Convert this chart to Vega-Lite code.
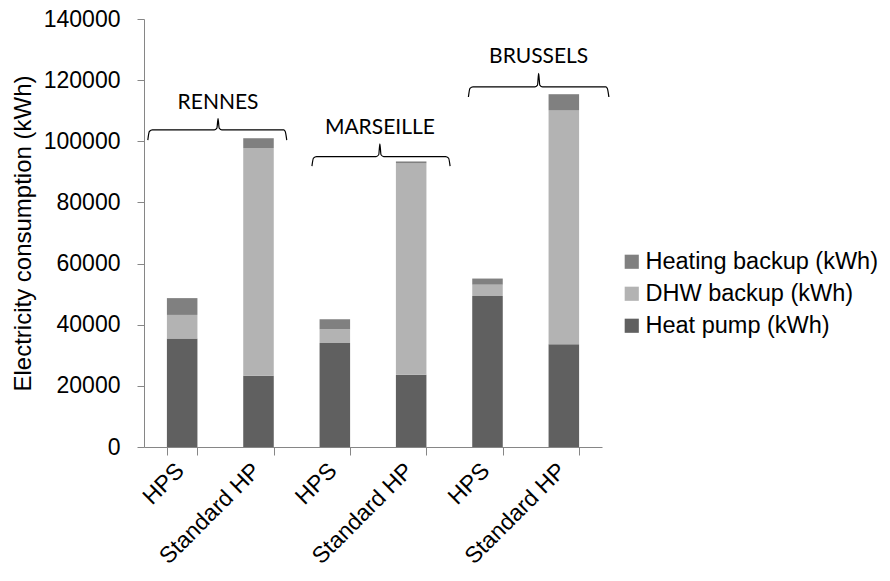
{
  "$schema": "https://vega.github.io/schema/vega-lite/v6.json",
  "autosize": "none",
  "width": 458,
  "height": 428,
  "padding": {"left": 144, "top": 19, "right": 288, "bottom": 134},
  "background": "white",
  "config": {
    "view": {"stroke": null},
    "font": "Liberation Sans"
  },
  "datasets": {
    "bars": [
      {"bar": "Rennes|HPS", "series": "Heat pump (kWh)", "k": 1, "v": 35500},
      {"bar": "Rennes|HPS", "series": "DHW backup (kWh)", "k": 2, "v": 7700},
      {"bar": "Rennes|HPS", "series": "Heating backup (kWh)", "k": 3, "v": 5500},
      {"bar": "Rennes|Standard HP", "series": "Heat pump (kWh)", "k": 1, "v": 23300},
      {"bar": "Rennes|Standard HP", "series": "DHW backup (kWh)", "k": 2, "v": 74500},
      {"bar": "Rennes|Standard HP", "series": "Heating backup (kWh)", "k": 3, "v": 3200},
      {"bar": "Marseille|HPS", "series": "Heat pump (kWh)", "k": 1, "v": 34000},
      {"bar": "Marseille|HPS", "series": "DHW backup (kWh)", "k": 2, "v": 4500},
      {"bar": "Marseille|HPS", "series": "Heating backup (kWh)", "k": 3, "v": 3300},
      {"bar": "Marseille|Standard HP", "series": "Heat pump (kWh)", "k": 1, "v": 23600},
      {"bar": "Marseille|Standard HP", "series": "DHW backup (kWh)", "k": 2, "v": 69200},
      {"bar": "Marseille|Standard HP", "series": "Heating backup (kWh)", "k": 3, "v": 600},
      {"bar": "Brussels|HPS", "series": "Heat pump (kWh)", "k": 1, "v": 49400},
      {"bar": "Brussels|HPS", "series": "DHW backup (kWh)", "k": 2, "v": 3700},
      {"bar": "Brussels|HPS", "series": "Heating backup (kWh)", "k": 3, "v": 2000},
      {"bar": "Brussels|Standard HP", "series": "Heat pump (kWh)", "k": 1, "v": 33600},
      {"bar": "Brussels|Standard HP", "series": "DHW backup (kWh)", "k": 2, "v": 76600},
      {"bar": "Brussels|Standard HP", "series": "Heating backup (kWh)", "k": 3, "v": 5200}
    ],
    "braces": [
      {"city": "RENNES", "i": 1, "x": 0.05, "y": 100400},
      {"city": "RENNES", "i": 2, "x": 0.07, "y": 103200},
      {"city": "RENNES", "i": 3, "x": 0.11, "y": 103700},
      {"city": "RENNES", "i": 4, "x": 0.92, "y": 103700},
      {"city": "RENNES", "i": 5, "x": 0.955, "y": 104300},
      {"city": "RENNES", "i": 6, "x": 0.97, "y": 107400},
      {"city": "RENNES", "i": 7, "x": 0.985, "y": 104300},
      {"city": "RENNES", "i": 8, "x": 1.02, "y": 103700},
      {"city": "RENNES", "i": 9, "x": 1.83, "y": 103700},
      {"city": "RENNES", "i": 10, "x": 1.85, "y": 103200},
      {"city": "RENNES", "i": 11, "x": 1.87, "y": 100400},
      {"city": "MARSEILLE", "i": 1, "x": 2.2, "y": 91900},
      {"city": "MARSEILLE", "i": 2, "x": 2.22, "y": 94500},
      {"city": "MARSEILLE", "i": 3, "x": 2.26, "y": 95000},
      {"city": "MARSEILLE", "i": 4, "x": 3.04, "y": 95000},
      {"city": "MARSEILLE", "i": 5, "x": 3.075, "y": 95600},
      {"city": "MARSEILLE", "i": 6, "x": 3.09, "y": 99200},
      {"city": "MARSEILLE", "i": 7, "x": 3.105, "y": 95600},
      {"city": "MARSEILLE", "i": 8, "x": 3.14, "y": 95000},
      {"city": "MARSEILLE", "i": 9, "x": 3.95, "y": 95000},
      {"city": "MARSEILLE", "i": 10, "x": 3.99, "y": 94500},
      {"city": "MARSEILLE", "i": 11, "x": 4.01, "y": 91900},
      {"city": "BRUSSELS", "i": 1, "x": 4.25, "y": 114500},
      {"city": "BRUSSELS", "i": 2, "x": 4.27, "y": 117300},
      {"city": "BRUSSELS", "i": 3, "x": 4.31, "y": 117800},
      {"city": "BRUSSELS", "i": 4, "x": 5.12, "y": 117800},
      {"city": "BRUSSELS", "i": 5, "x": 5.155, "y": 118400},
      {"city": "BRUSSELS", "i": 6, "x": 5.17, "y": 122200},
      {"city": "BRUSSELS", "i": 7, "x": 5.185, "y": 118400},
      {"city": "BRUSSELS", "i": 8, "x": 5.22, "y": 117800},
      {"city": "BRUSSELS", "i": 9, "x": 6.05, "y": 117800},
      {"city": "BRUSSELS", "i": 10, "x": 6.07, "y": 117300},
      {"city": "BRUSSELS", "i": 11, "x": 6.09, "y": 114500}
    ],
    "labels": [
      {"city": "RENNES", "x": 0.97, "y": 112500},
      {"city": "MARSEILLE", "x": 3.09, "y": 104400},
      {"city": "BRUSSELS", "x": 5.17, "y": 127600}
    ]
  },
  "layer": [
    {
      "data": {"name": "bars"},
      "mark": {"type": "bar"},
      "encoding": {
        "x": {
          "field": "bar",
          "type": "nominal",
          "sort": null,
          "scale": {"paddingInner": 0.6, "paddingOuter": 0.3},
          "axis": {
            "title": null,
            "labelExpr": "split(datum.value, '|')[1]",
            "labelAngle": -45,
            "labelFontSize": 23,
            "labelColor": "#000000",
            "labelPadding": 4,
            "labelOffset": -10,
            "tickBand": "extent",
            "tickSize": 8,
            "tickColor": "#868686",
            "domainColor": "#868686",
            "grid": false
          }
        },
        "y": {
          "field": "v",
          "type": "quantitative",
          "stack": "zero",
          "scale": {"domain": [0, 140000], "nice": false},
          "axis": {
            "title": "Electricity consumption (kWh)",
            "titleFontSize": 24,
            "titleFontWeight": "normal",
            "titleColor": "#000000",
            "titlePadding": 8,
            "values": [0, 20000, 40000, 60000, 80000, 100000, 120000, 140000],
            "format": "d",
            "labelFontSize": 23,
            "labelColor": "#000000",
            "labelPadding": 17,
            "tickSize": 7,
            "tickColor": "#868686",
            "domainColor": "#868686",
            "grid": false
          }
        },
        "color": {
          "field": "series",
          "type": "nominal",
          "scale": {
            "domain": ["Heating backup (kWh)", "DHW backup (kWh)", "Heat pump (kWh)"],
            "range": ["#808080", "#b3b3b3", "#606060"]
          },
          "legend": {
            "title": null,
            "orient": "none",
            "legendX": 476,
            "legendY": 231,
            "symbolType": "square",
            "symbolSize": 200,
            "symbolStrokeWidth": 0,
            "labelFontSize": 23.5,
            "labelColor": "#000000",
            "labelOffset": 2,
            "rowPadding": 7,
            "labelLimit": 400
          }
        },
        "order": {"field": "k", "type": "quantitative", "sort": "ascending"}
      }
    },
    {
      "data": {"name": "braces"},
      "mark": {"type": "line", "color": "#000000", "strokeWidth": 1.2, "interpolate": "monotone", "clip": false},
      "encoding": {
        "x": {"field": "x", "type": "quantitative", "scale": {"domain": [0, 6], "nice": false, "zero": false}, "axis": null},
        "y": {"field": "y", "type": "quantitative", "title": "Electricity consumption (kWh)"},
        "detail": {"field": "city"},
        "order": {"field": "i", "type": "quantitative"}
      }
    },
    {
      "data": {"name": "labels"},
      "mark": {"type": "text", "font": "Lato", "fontSize": 21, "color": "#000000", "align": "center", "baseline": "middle"},
      "encoding": {
        "x": {"field": "x", "type": "quantitative", "scale": {"domain": [0, 6], "nice": false, "zero": false}, "axis": null},
        "y": {"field": "y", "type": "quantitative", "title": "Electricity consumption (kWh)"},
        "text": {"field": "city"}
      }
    }
  ],
  "resolve": {"scale": {"x": "independent"}, "axis": {"x": "independent"}}
}
